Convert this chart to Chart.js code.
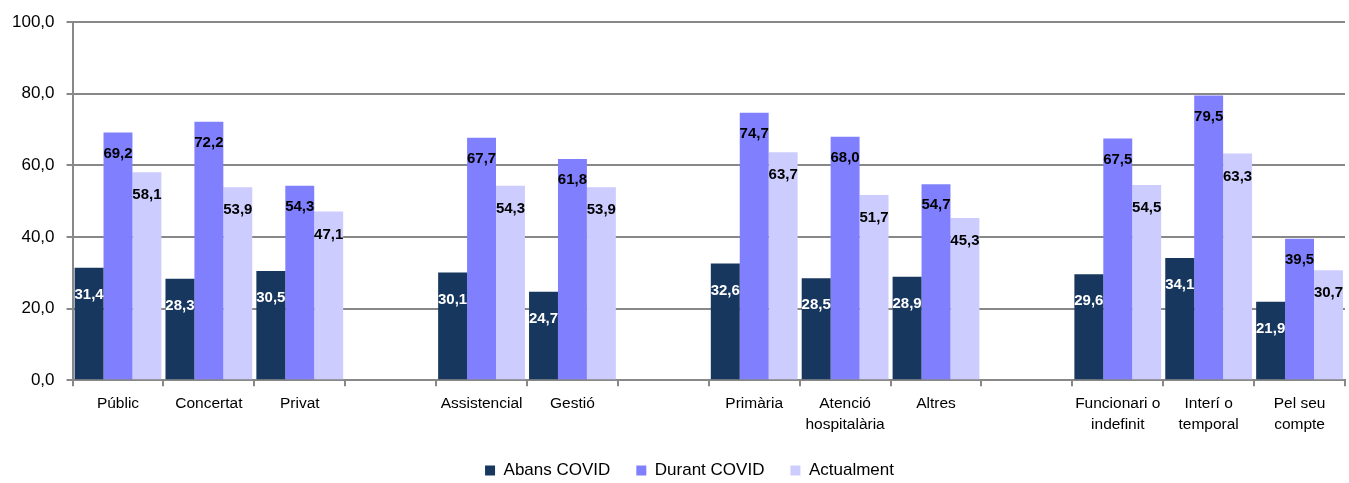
<!DOCTYPE html>
<html>
<head>
<meta charset="utf-8">
<script src="https://cdn.jsdelivr.net/npm/chart.js@4/dist/chart.umd.min.js"></script>
<style>
html,body{margin:0;padding:0;background:#fff;}
#wrap{width:1349px;height:483px;position:relative;}
</style>
</head>
<body>
<div id="wrap"><canvas id="c"></canvas></div>
<script>
const categories = [
  "Públic", "Concertat", "Privat", "",
  "Assistencial", "Gestió", "",
  "Primària", ["Atenció", "hospitalària"], "Altres", "",
  ["Funcionari o", "indefinit"], ["Interí o", "temporal"], ["Pel seu", "compte"]
];
const abansCovid   = [31.4, 28.3, 30.5, null, 30.1, 24.7, null, 32.6, 28.5, 28.9, null, 29.6, 34.1, 21.9];
const durantCovid  = [69.2, 72.2, 54.3, null, 67.7, 61.8, null, 74.7, 68.0, 54.7, null, 67.5, 79.5, 39.5];
const actualment   = [58.1, 53.9, 47.1, null, 54.3, 53.9, null, 63.7, 51.7, 45.3, null, 54.5, 63.3, 30.7];
const seriesNames  = ["Abans COVID", "Durant COVID", "Actualment"];
const yTicks = [0, 20, 40, 60, 80, 100];

const fmt = v => v.toFixed(1).replace('.', ',');
const FONT = "'Liberation Sans', Arial, sans-serif";

const labelPlugin = {
  id: 'barLabels',
  afterDatasetsDraw(chart) {
    const ctx = chart.ctx;
    const offs = [27, 21, 23];
    const cols = ['#ffffff', '#000000', '#000000'];
    chart.data.datasets.forEach((ds, di) => {
      const meta = chart.getDatasetMeta(di);
      meta.data.forEach((bar, i) => {
        const v = ds.data[i];
        if (v === null || v === undefined) return;
        ctx.save();
        ctx.font = "bold 15px " + FONT;
        ctx.fillStyle = cols[di];
        ctx.textAlign = 'center';
        ctx.textBaseline = 'middle';
        ctx.fillText(fmt(v), bar.x, bar.y + offs[di]);
        ctx.restore();
      });
    });
  }
};

// keep legend compact vertically while keeping wide horizontal spacing
const legendFitPlugin = {
  id: 'legendFit',
  afterInit(chart) {
    const lg = chart.legend;
    if (!lg) return;
    const orig = lg.fit.bind(lg);
    lg.fit = function () { orig(); this.height = 41; };
  },
  afterLayout(chart) {
    const lg = chart.legend;
    if (!lg) return;
    lg.left += 17; lg.right += 17;
    lg.top -= 6; lg.bottom -= 6;
  }
};

new Chart(document.getElementById('c'), {
  type: 'bar',
  data: {
    labels: categories,
    datasets: [
      { label: seriesNames[0], data: abansCovid, backgroundColor: '#17375E' },
      { label: seriesNames[1], data: durantCovid, backgroundColor: '#8080FF' },
      { label: seriesNames[2], data: actualment, backgroundColor: '#CCCCFF' }
    ]
  },
  options: {
    responsive: true,
    maintainAspectRatio: false,
    animation: false,
    layout: { padding: { left: 0, right: 4, top: 9, bottom: 0 } },
    datasets: { bar: { categoryPercentage: 0.955, barPercentage: 1.0 } },
    plugins: {
      tooltip: { enabled: false },
      legend: {
        position: 'bottom',
        labels: {
          font: { family: FONT, size: 17 },
          color: '#000',
          boxWidth: 10,
          boxHeight: 10,
          padding: 26,
          useBorderRadius: false
        }
      }
    },
    scales: {
      x: {
        grid: {
          offset: true,
          drawOnChartArea: false,
          drawTicks: true,
          tickLength: 6,
          color: '#888',
          lineWidth: 2
        },
        border: { color: '#888', width: 2 },
        ticks: {
          font: { family: FONT, size: 15.5, lineHeight: 1.35 },
          color: '#000',
          maxRotation: 0,
          autoSkip: false,
          padding: 7
        }
      },
      y: {
        min: 0,
        max: 100,
        afterBuildTicks(axis) { axis.ticks = yTicks.map(v => ({ value: v })); },
        grid: { color: '#888', lineWidth: 2, tickLength: 6 },
        border: { color: '#888', width: 2 },
        ticks: {
          font: { family: FONT, size: 17 },
          color: '#000',
          padding: 12,
          callback: v => fmt(v)
        }
      }
    }
  },
  plugins: [labelPlugin, legendFitPlugin]
});
</script>
</body>
</html>
